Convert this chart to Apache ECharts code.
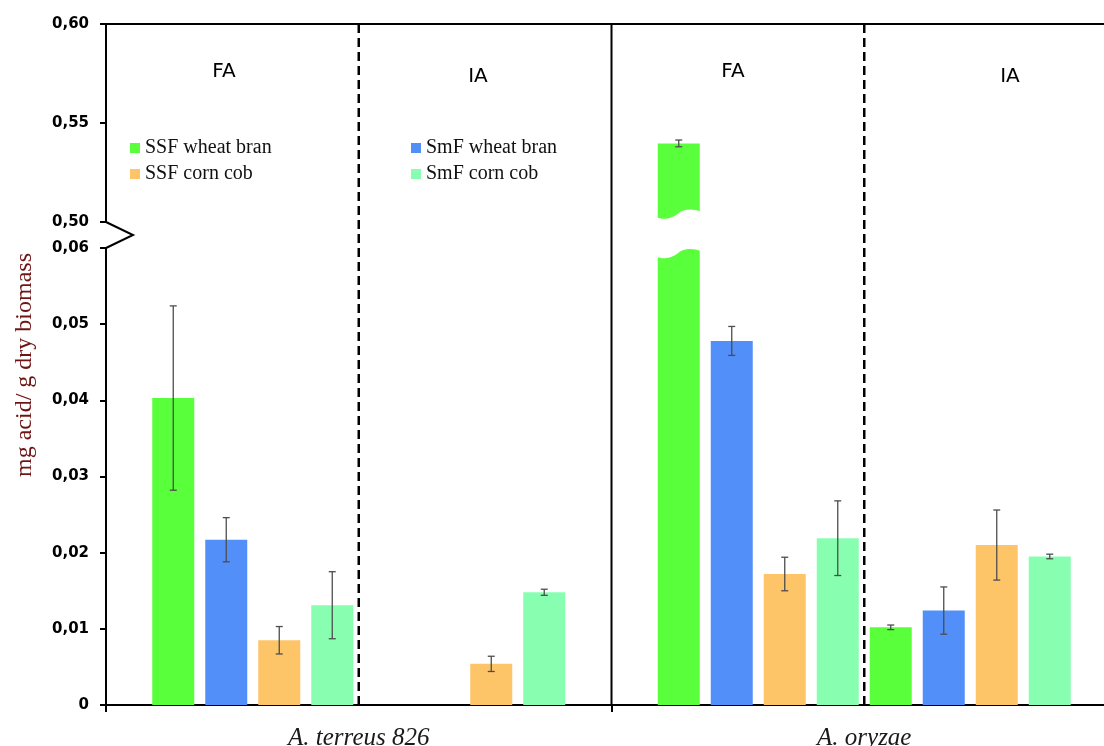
<!DOCTYPE html>
<html><head><meta charset="utf-8">
<script src="https://cdn.jsdelivr.net/npm/echarts@6/dist/echarts.min.js"></script>
<style>html,body{margin:0;padding:0;background:#fff}#c{width:1104px;height:746px}</style>
</head><body><div id="c"></div>
<script>
// ---------- data ----------
const species = ['A. terreus 826', 'A. oryzae'];
const substrates = ['SSF wheat bran', 'SmF wheat bran', 'SSF corn cob', 'SmF corn cob'];
const groupLabels = ['FA', 'IA', 'FA', 'IA'];
// values per species [A. terreus 826, A. oryzae] (mg acid / g dry biomass)
const FA_SSF_wheat = [0.0403, 0.5397];
const FA_SmF_wheat = [0.0217, 0.0478];
const FA_SSF_corn  = [0.0085, 0.0172];
const FA_SmF_corn  = [0.0131, 0.0219];
const IA_SSF_wheat = [null, 0.0102];
const IA_SmF_wheat = [null, 0.0124];
const IA_SSF_corn  = [0.0054, 0.0210];
const IA_SmF_corn  = [0.0148, 0.0195];
// error (± half range)
const FA_SSF_wheat_err = [0.0121, 0.0017];
const FA_SmF_wheat_err = [0.0029, 0.0019];
const FA_SSF_corn_err  = [0.0018, 0.0022];
const FA_SmF_corn_err  = [0.0044, 0.0049];
const IA_SSF_wheat_err = [null, 0.0003];
const IA_SmF_wheat_err = [null, 0.0031];
const IA_SSF_corn_err  = [0.0010, 0.0046];
const IA_SmF_corn_err  = [0.0004, 0.0003];
// axis ticks
const lowerTickLabels = ['0', '0,01', '0,02', '0,03', '0,04', '0,05', '0,06'];
const upperTickLabels = ['0,50', '0,55', '0,60'];
const LOWER_MIN = 0, LOWER_MAX = 0.06, LOWER_INT = 0.01;
const UPPER_MIN = 0.50, UPPER_MAX = 0.60, UPPER_INT = 0.05;

// ---------- style / layout ----------
const colors = ['#59ff3a', '#528ff9', '#fec468', '#88ffb0'];
const BAR_W = 42, BAR_GAP = 11, STEP = BAR_W + BAR_GAP, CAP = 3.5;
const PLOT_LEFT = 106, PLOT_RIGHT = -13;
const UPPER_TOP = 24, UPPER_H = 198, LOWER_TOP = 248, LOWER_BOTTOM = 41;

const slots = [
  {vals: FA_SSF_wheat, err: FA_SSF_wheat_err, sub: 0},
  {vals: FA_SmF_wheat, err: FA_SmF_wheat_err, sub: 1},
  {vals: FA_SSF_corn,  err: FA_SSF_corn_err,  sub: 2},
  {vals: FA_SmF_corn,  err: FA_SmF_corn_err,  sub: 3},
  {vals: IA_SSF_wheat, err: IA_SSF_wheat_err, sub: 0},
  {vals: IA_SmF_wheat, err: IA_SmF_wheat_err, sub: 1},
  {vals: IA_SSF_corn,  err: IA_SSF_corn_err,  sub: 2},
  {vals: IA_SmF_corn,  err: IA_SmF_corn_err,  sub: 3}
];
const N = slots.length;
const gapPct = (BAR_GAP / BAR_W * 100).toFixed(2) + '%';

const series = [];
slots.forEach((s, i) => {
  const base = {type: 'bar', name: substrates[s.sub], barWidth: BAR_W, barGap: gapPct,
    itemStyle: {color: colors[s.sub]}, clip: true, animation: false, z: 2, silent: true};
  series.push(Object.assign({}, base, {xAxisIndex: 1, yAxisIndex: 1, data: s.vals.slice()}));
  series.push(Object.assign({}, base, {xAxisIndex: 0, yAxisIndex: 0,
    data: s.vals.map(v => (v != null && v > LOWER_MAX) ? v : null)}));
});

function errRender(params, api) {
  const cat = api.value(0), slot = api.value(1);
  const pLo = api.coord([cat, api.value(2)]);
  const pHi = api.coord([cat, api.value(3)]);
  const xc = pLo[0] + (slot - (N - 1) / 2) * STEP;
  const style = {stroke: '#4d4d4d', lineWidth: 1.3};
  return {type: 'group', children: [
    {type: 'line', shape: {x1: xc, y1: pHi[1], x2: xc, y2: pLo[1]}, style},
    {type: 'line', shape: {x1: xc - CAP, y1: pHi[1], x2: xc + CAP, y2: pHi[1]}, style},
    {type: 'line', shape: {x1: xc - CAP, y1: pLo[1], x2: xc + CAP, y2: pLo[1]}, style}
  ]};
}
const errLower = [], errUpper = [], brokenBars = [];
slots.forEach((s, i) => {
  s.vals.forEach((v, j) => {
    if (v == null) return;
    const e = s.err[j] || 0;
    if (v > LOWER_MAX) { errUpper.push([j, i, v - e, v + e]); brokenBars.push([j, i]); }
    else errLower.push([j, i, v - e, v + e]);
  });
});
series.push({type: 'custom', xAxisIndex: 1, yAxisIndex: 1, data: errLower, renderItem: errRender,
  encode: {x: 0, y: [2, 3]}, z: 6, animation: false, silent: true});
series.push({type: 'custom', xAxisIndex: 0, yAxisIndex: 0, data: errUpper, renderItem: errRender,
  encode: {x: 0, y: [2, 3]}, z: 6, animation: false, silent: true});

// wavy break on the clipped bar
function wavePath(xL, xR, b) {
  const W = xR - xL;
  return `C ${xL + 0.12 * W} ${b + 2.4} ${xL + 0.32 * W} ${b + 2.4} ${xL + 0.48 * W} ${b - 3.5} ` +
         `C ${xL + 0.6 * W} ${b - 9} ${xL + 0.85 * W} ${b - 8.5} ${xR} ${b - 5.7}`;
}
function breakRender(isLower) {
  return function (params, api) {
    const cat = api.value(0), slot = api.value(1);
    const p = api.coord([cat, isLower ? LOWER_MAX : UPPER_MIN]);
    const xc = p[0] + (slot - (N - 1) / 2) * STEP;
    const xL = xc - BAR_W / 2 - 1, xR = xc + BAR_W / 2 + 1;
    let d;
    if (isLower) {
      const b = p[1] + 8.7, yT = p[1] - 3;
      d = `M ${xL} ${yT} L ${xL} ${b} ${wavePath(xL, xR, b)} L ${xR} ${yT} Z`;
    } else {
      const b = p[1] - 4.7, yB = p[1] + 3;
      d = `M ${xL} ${yB} L ${xL} ${b} ${wavePath(xL, xR, b)} L ${xR} ${yB} Z`;
    }
    return {type: 'path', shape: {pathData: d}, style: {fill: '#fff', stroke: null}};
  };
}
series.push({type: 'custom', xAxisIndex: 1, yAxisIndex: 1, data: brokenBars, renderItem: breakRender(true),
  encode: {x: 0}, z: 5, animation: false, silent: true, clip: false});
series.push({type: 'custom', xAxisIndex: 0, yAxisIndex: 0, data: brokenBars, renderItem: breakRender(false),
  encode: {x: 0}, z: 5, animation: false, silent: true, clip: false});

const yLabelStyle = {fontFamily: 'DejaVu Sans', fontWeight: 'bold', fontSize: 15, color: '#000', margin: 17};
const lineBlack = {color: '#000', width: 2};
const legendText = {fontFamily: 'Liberation Serif', fontSize: 20, color: '#111'};

const option = {
  animation: false,
  backgroundColor: '#fff',
  grid: [
    {left: PLOT_LEFT, right: PLOT_RIGHT, top: UPPER_TOP, height: UPPER_H, containLabel: false, outerBoundsMode: 'none'},
    {left: PLOT_LEFT, right: PLOT_RIGHT, top: LOWER_TOP, bottom: LOWER_BOTTOM, containLabel: false, outerBoundsMode: 'none'}
  ],
  xAxis: [
    {type: 'category', gridIndex: 0, data: species, position: 'top',
      axisLine: {show: true, lineStyle: lineBlack}, axisTick: {show: false}, axisLabel: {show: false},
      splitLine: {show: false}},
    {type: 'category', gridIndex: 1, data: species,
      axisLine: {show: true, lineStyle: lineBlack},
      axisTick: {show: true, length: 7, lineStyle: lineBlack},
      axisLabel: {fontFamily: 'Liberation Serif', fontStyle: 'italic', fontSize: 25, color: '#1a1a1a', margin: 21},
      splitLine: {show: false}}
  ],
  yAxis: [
    {type: 'value', gridIndex: 0, min: UPPER_MIN, max: UPPER_MAX, interval: UPPER_INT,
      axisLine: {show: true, lineStyle: lineBlack},
      axisTick: {show: true, length: 6, lineStyle: lineBlack},
      axisLabel: Object.assign({}, yLabelStyle, {formatter: v => upperTickLabels[Math.round((v - UPPER_MIN) / UPPER_INT)]}),
      splitLine: {show: false}},
    {type: 'value', gridIndex: 1, min: LOWER_MIN, max: LOWER_MAX, interval: LOWER_INT,
      axisLine: {show: true, lineStyle: lineBlack},
      axisTick: {show: true, length: 6, lineStyle: lineBlack},
      axisLabel: Object.assign({}, yLabelStyle, {formatter: v => lowerTickLabels[Math.round((v - LOWER_MIN) / LOWER_INT)]}),
      splitLine: {show: false}}
  ],
  legend: [
    {left: 125, top: 133, orient: 'vertical', itemWidth: 10, itemHeight: 10, itemGap: 6, icon: 'rect',
      data: [substrates[0], substrates[2]], selectedMode: false, textStyle: legendText},
    {left: 406, top: 133, orient: 'vertical', itemWidth: 10, itemHeight: 10, itemGap: 6, icon: 'rect',
      data: [substrates[1], substrates[3]], selectedMode: false, textStyle: legendText}
  ],
  series: series
};

const chart = echarts.init(document.getElementById('c'), null, {renderer: 'canvas'});
chart.setOption(option);

// decorations derived from axes
const c0 = chart.convertToPixel({xAxisIndex: 1}, species[0]);
const c1 = chart.convertToPixel({xAxisIndex: 1}, species[1]);
const yTop = chart.convertToPixel({yAxisIndex: 0}, UPPER_MAX);
const yUpBase = chart.convertToPixel({yAxisIndex: 0}, UPPER_MIN);
const yLowTop = chart.convertToPixel({yAxisIndex: 1}, LOWER_MAX);
const yBot = chart.convertToPixel({yAxisIndex: 1}, LOWER_MIN);
const xMid = (c0 + c1) / 2;
const textFont = {fontFamily: 'DejaVu Sans', fontSize: 20, fill: '#000'};
chart.setOption({
  graphic: [
    {type: 'line', shape: {x1: xMid, y1: yTop, x2: xMid, y2: yBot}, style: {stroke: '#000', lineWidth: 2}, z: 1, silent: true},
    {type: 'line', shape: {x1: c0, y1: yTop, x2: c0, y2: yBot}, style: {stroke: '#000', lineWidth: 2.5, lineDash: [9, 5]}, z: 1, silent: true},
    {type: 'line', shape: {x1: c1, y1: yTop, x2: c1, y2: yBot}, style: {stroke: '#000', lineWidth: 2.5, lineDash: [9, 5]}, z: 1, silent: true},
    {type: 'polyline', shape: {points: [[PLOT_LEFT, yUpBase], [PLOT_LEFT + 27, (yUpBase + yLowTop) / 2], [PLOT_LEFT, yLowTop]]},
      style: {stroke: '#000', lineWidth: 2, fill: null}, z: 10, silent: true},
    {type: 'text', x: 224, y: 72, style: Object.assign({text: groupLabels[0], textAlign: 'center', textVerticalAlign: 'middle'}, textFont)},
    {type: 'text', x: 478, y: 77, style: Object.assign({text: groupLabels[1], textAlign: 'center', textVerticalAlign: 'middle'}, textFont)},
    {type: 'text', x: 733, y: 72, style: Object.assign({text: groupLabels[2], textAlign: 'center', textVerticalAlign: 'middle'}, textFont)},
    {type: 'text', x: 1010, y: 77, style: Object.assign({text: groupLabels[3], textAlign: 'center', textVerticalAlign: 'middle'}, textFont)},
    {type: 'text', x: 25, y: 365, rotation: Math.PI / 2,
      style: {text: 'mg acid/ g dry biomass', textAlign: 'center', textVerticalAlign: 'middle',
        fontFamily: 'Liberation Serif', fontSize: 24, fill: '#6e1414'}}
  ]
});
</script>
</body></html>
